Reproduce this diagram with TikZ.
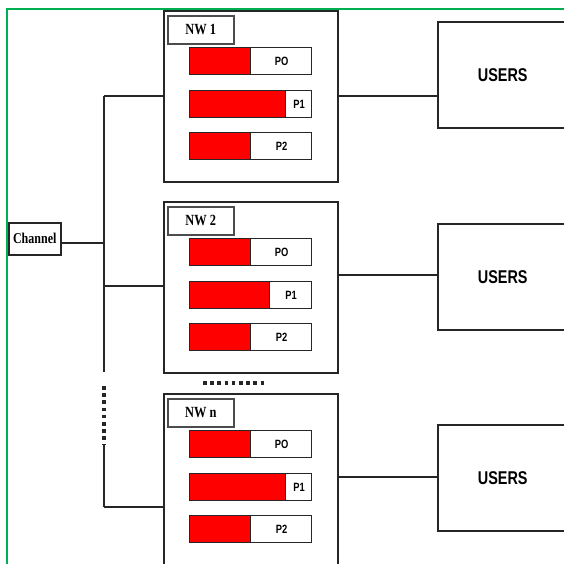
\documentclass[tikz,border=0pt]{standalone}
\usepackage{fontspec}
\newfontfamily\nwfont[FakeStretch=0.8]{Liberation Serif}
\newfontfamily\usrfont[FakeStretch=0.78]{Liberation Sans}
\usetikzlibrary{calc}
\definecolor{nwgreen}{RGB}{0,176,80}
\tikzset{
  box/.style={draw=black!85, line width=1.5pt, inner sep=0pt, anchor=north west},
  nwbox/.style={box, fill=white, minimum width=174pt, minimum height=171pt},
  tagbox/.style={box, draw=black!70, minimum width=66pt, minimum height=28pt, font=\nwfont\bfseries\fontsize{15.5}{15.5}\selectfont},
  barbox/.style={box, line width=1.2pt, minimum width=122pt, minimum height=27pt},
  fillbox/.style={barbox, fill=red},
  usrbox/.style={box, minimum width=130pt, minimum height=106pt, font=\usrfont\bfseries\fontsize{18.5}{18.5}\selectfont},
  ptext/.style={font=\usrfont\bfseries\fontsize{12}{12}\selectfont, inner sep=0pt},
  wire/.style={line width=1.6pt, black!85},
  dotline/.style={line width=3.2pt, black!85, dash pattern=on 3.6pt off 3.6pt}
}
\begin{document}
\begin{tikzpicture}[x=1pt, y=-1pt]
  \useasboundingbox (0,0) rectangle (564,563);
  \clip (0,0) rectangle (564,563);
  \draw [nwgreen, line width=2.2pt] (7,9) rectangle (580,580);

  \node [box, minimum width=52pt, minimum height=32pt, font=\nwfont\bfseries\fontsize{15}{15}\selectfont] (chan) at (8,222) {Channel};

  % one network per row: top, red part of P1, in/out heights, users top
  \foreach \i/\top/\pone/\inY/\outY/\uTop in {1/10/96/86/86/21, 2/201/80/85/74/223, n/393/96/114/84/424} {
    \node [nwbox] (nw\i) at (163,\top) {};
    \node [tagbox] (tag\i) at ([shift={(4,5)}]nw\i.north west) {NW \i};
    \foreach \j/\dy/\w in {O/37/61, 1/80/\pone, 2/122/61} {
      \node [barbox] (p\i\j) at ([shift={(26,\dy)}]nw\i.north west) {};
      \node [fillbox, minimum width=\w pt] (r\i\j) at (p\i\j.north west) {};
      \node [ptext] (t\i\j) at ($(r\i\j.east)!0.5!(p\i\j.east)$) {P\j};
    }
    \node [usrbox] (usr\i) at (437,\uTop) {USERS};
    \coordinate (in\i) at (104,\top+\inY);
    \coordinate (out\i) at (337,\top+\outY);
    \draw [wire] (in\i) -- (in\i -| nw\i.west);
    \draw [wire] (out\i -| nw\i.east) -- (out\i -| usr\i.west);
  }

  % bus
  \coordinate (chanbus) at (104,243);
  \coordinate (gapA) at (104,372);
  \coordinate (dotA) at (104,386);
  \coordinate (dotB) at (104,445);
  \coordinate (hdA) at (203,383);
  \coordinate (hdB) at (264.5,383);
  \draw [wire] (chanbus -| chan.east) -- (chanbus);
  \draw [wire] (in1) -- (gapA);
  \draw [dotline] (dotA) -- (dotB);
  \draw [wire] (dotB) -- (inn);
  \draw [dotline] (hdA) -- (hdB);
\end{tikzpicture}
\end{document}
